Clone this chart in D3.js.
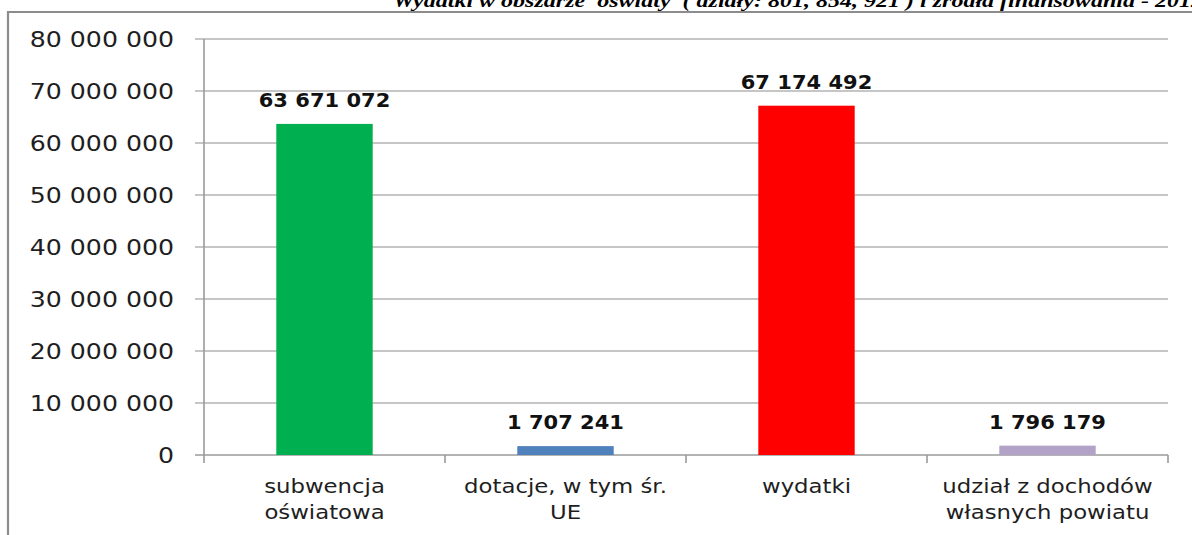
<!DOCTYPE html>
<html>
<head>
<meta charset="utf-8">
<script src="https://cdn.jsdelivr.net/npm/d3@7"></script>
<style>
  html, body { margin: 0; padding: 0; background: #fff; overflow: hidden; }
</style>
</head>
<body>
<div id="chart"></div>
<script>
/* wydatki oswiata - bar chart */

const categories = ["subwencja oświatowa", "dotacje, w tym śr. UE", "wydatki", "udział z dochodów własnych powiatu"];
const categoryLines = [["subwencja", "oświatowa"], ["dotacje, w tym śr.", "UE"], ["wydatki"], ["udział z dochodów", "własnych powiatu"]];
const values = [63671072, 1707241, 67174492, 1796179];
const colors = ["#00b050", "#4f81bd", "#ff0000", "#b3a2c7"];
const yTicks = [0, 10000000, 20000000, 30000000, 40000000, 50000000, 60000000, 70000000, 80000000];
const title = "Wydatki w obszarze  oświaty  ( działy: 801, 854, 921 ) i źródła finansowania - 2012";

const W = 1192, H = 535;
const fmt = v => d3.format(",")(v).replace(/,/g, " ");

const svg = d3.select("#chart")
	.append("svg")
	.attr("width", W)
	.attr("height", H)
	.style("display", "block");

// title, clipped at top and right like the source
svg.append("text")
	.attr("x", 393)
	.attr("y", 7)
	.attr("textLength", 810)
	.attr("lengthAdjust", "spacingAndGlyphs")
	.attr("font-family", "Liberation Serif")
	.attr("font-weight", "bold")
	.attr("font-style", "italic")
	.attr("font-size", 19)
	.attr("fill", "#000")
	.style("white-space", "pre")
	.text(title);

// chart frame
svg.append("path")
	.attr("d", `M 8,${H + 5} L 8,12 L ${W + 5},12`)
	.attr("fill", "none")
	.attr("stroke", "#8c8c8c")
	.attr("stroke-width", 2.2);

const x = d3.scaleBand()
	.domain(categories)
	.range([204, 1168])
	.paddingInner(0.6)
	.paddingOuter(0.3);

const y = d3.scaleLinear()
	.domain([0, 80000000])
	.range([455, 39]);

// gridlines + y ticks
svg.append("g")
	.selectAll("line")
	.data(yTicks)
	.join("line")
	.attr("x1", 195)
	.attr("x2", 1168)
	.attr("y1", d => y(d))
	.attr("y2", d => y(d))
	.attr("stroke", d => d === 0 ? "#9a9a9a" : "#b3b3b3")
	.attr("stroke-width", 1.6);

// y axis line
svg.append("line")
	.attr("x1", 204).attr("x2", 204)
	.attr("y1", y(80000000)).attr("y2", 463)
	.attr("stroke", "#9a9a9a")
	.attr("stroke-width", 1.6);

// category ticks at band boundaries
const step = x.step();
const bounds = categories.map((c, i) => x.range()[0] + i * step).concat([x.range()[1]]);
svg.append("g")
	.selectAll("line")
	.data(bounds.slice(1))
	.join("line")
	.attr("x1", d => d).attr("x2", d => d)
	.attr("y1", y(0)).attr("y2", 463)
	.attr("stroke", "#9a9a9a")
	.attr("stroke-width", 1.6);

// y labels
svg.append("g")
	.selectAll("text")
	.data(yTicks)
	.join("text")
	.attr("transform", d => `translate(174,${y(d) + 8}) scale(1.2,1)`)
	.attr("text-anchor", "end")
	.attr("font-family", "DejaVu Sans")
	.attr("font-size", 21)
	.attr("fill", "#1e1e1e")
	.text(d => fmt(d));

// bars
svg.append("g")
	.selectAll("rect")
	.data(values)
	.join("rect")
	.attr("x", (d, i) => x(categories[i]))
	.attr("width", x.bandwidth())
	.attr("y", d => y(d))
	.attr("height", d => y(0) - y(d))
	.attr("fill", (d, i) => colors[i]);

// value labels
svg.append("g")
	.selectAll("text")
	.data(values)
	.join("text")
	.attr("transform", (d, i) => `translate(${x(categories[i]) + x.bandwidth() / 2},${y(d) - 17}) scale(1.05,1)`)
	.attr("text-anchor", "middle")
	.attr("font-family", "DejaVu Sans")
	.attr("font-weight", "bold")
	.attr("font-size", 20)
	.attr("fill", "#111")
	.text(d => fmt(d));

// category labels
const cat = svg.append("g")
	.selectAll("g")
	.data(categories)
	.join("g")
	.attr("transform", d => `translate(${x(d) + x.bandwidth() / 2},0)`);

cat.selectAll("text")
	.data((d, i) => categoryLines[i])
	.join("text")
	.attr("transform", (d, j) => `translate(0,${493 + j * 26}) scale(1.2,1)`)
	.attr("text-anchor", "middle")
	.attr("font-family", "DejaVu Sans")
	.attr("font-size", 19)
	.attr("fill", "#1e1e1e")
	.text(d => d);
</script>
</body>
</html>
